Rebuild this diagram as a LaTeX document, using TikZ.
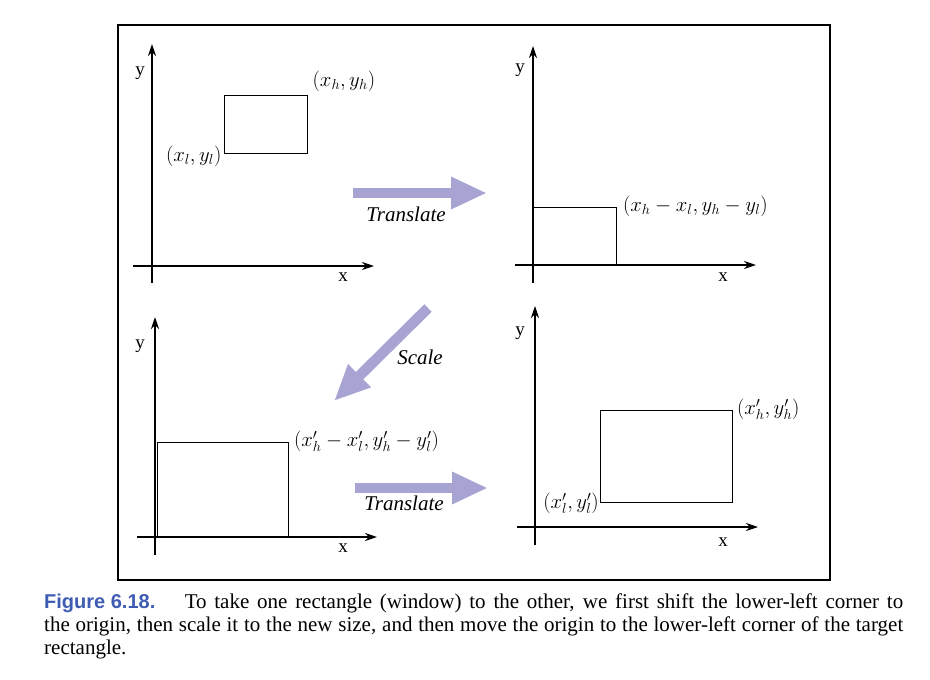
\documentclass[tikz,border=0pt]{standalone}
\usepackage{fontspec}
\setmainfont{Liberation Serif}
\newfontfamily\capsans{Liberation Sans}
\usetikzlibrary{arrows.meta}
\definecolor{lav}{RGB}{167,163,211}
\definecolor{capblue}{RGB}{62,92,178}
\begin{document}
\begin{tikzpicture}[x=1pt,y=-1pt,
  axis/.style={line width=1.6pt,-{Stealth[length=12pt,width=8pt]}},
  rectbox/.style={draw,line width=0.9pt},
  bigarrow/.style={line width=10.5pt,lav,-{Triangle[length=36pt,width=30pt]}},
  lbl/.style={font=\fontsize{20}{22}\selectfont,inner sep=0pt},
  itl/.style={font=\fontsize{21}{22}\selectfont\itshape,inner sep=0pt},
  axlbl/.style={font=\fontsize{19}{20}\selectfont,inner sep=0pt}]
\useasboundingbox (0,0) rectangle (930,680);
\draw[line width=2.5pt] (118,25) rectangle (830,580);
% Panel 1
\coordinate (a1o) at (152,283); \coordinate (a1t) at (152,44);
\coordinate (a1l) at (133,266); \coordinate (a1r) at (374,266);
\draw[axis] (a1o) -- (a1t);
\draw[axis] (a1l) -- (a1r);
\node[axlbl] (y1) at (140,73) {y};
\node[axlbl] (x1) at (343,277) {x};
\node[rectbox,minimum width=83pt,minimum height=58pt,inner sep=0pt] (r1) at (265.5,124) {};
\node[lbl,anchor=south west] (r1h) at ([shift={(5,-3)}]r1.north east) {$(x_h, y_h)$};
\node[lbl,anchor=north east] (r1l) at ([shift={(-2,-8)}]r1.south west) {$(x_l, y_l)$};
% Translate 1
\coordinate (t1s) at (353,193); \coordinate (t1e) at (487,193);
\draw[bigarrow] (t1s) -- (t1e);
\node[itl] (t1lab) at (406,214) {Translate};
% Panel 2
\coordinate (a2o) at (533,283); \coordinate (a2t) at (533,46);
\coordinate (a2l) at (515,265); \coordinate (a2r) at (756,265);
\draw[axis] (a2o) -- (a2t);
\draw[axis] (a2l) -- (a2r);
\node[axlbl] (y2) at (520,70) {y};
\node[axlbl] (x2) at (723,277) {x};
\node[rectbox,minimum width=83pt,minimum height=57pt,inner sep=0pt,anchor=south west] (r2) at (533,265) {};
\draw[line width=2.2pt] (r2.north west) -- (r2.south west) -- (r2.south east);
\node[lbl,anchor=south west] (r2h) at ([shift={(6,10)}]r2.north east) {$(x_h - x_l, y_h - y_l)$};
% Scale arrow
\coordinate (s1s) at (428,308); \coordinate (s1e) at (334,401);
\draw[bigarrow] (s1s) -- (s1e);
\node[itl] (s1lab) at (420,357) {Scale};
% Panel 3
\coordinate (a3o) at (155,555); \coordinate (a3t) at (155,317);
\coordinate (a3l) at (137,537); \coordinate (a3r) at (377,537);
\draw[axis] (a3o) -- (a3t);
\draw[axis] (a3l) -- (a3r);
\node[axlbl] (y3) at (140,346) {y};
\node[axlbl] (x3) at (343,548) {x};
\node[rectbox,minimum width=131pt,minimum height=94pt,inner sep=0pt,anchor=south west] (r3) at (157,537) {};
\node[lbl,anchor=south west] (r3h) at ([shift={(5,10)}]r3.north east) {$(x'_h - x'_l, y'_h - y'_l)$};
% Translate 2
\coordinate (t2s) at (355,488); \coordinate (t2e) at (488,488);
\draw[bigarrow] (t2s) -- (t2e);
\node[itl] (t2lab) at (404,503) {Translate};
% Panel 4
\coordinate (a4o) at (535,545); \coordinate (a4t) at (535,306);
\coordinate (a4l) at (517,527); \coordinate (a4r) at (758,527);
\draw[axis] (a4o) -- (a4t);
\draw[axis] (a4l) -- (a4r);
\node[axlbl] (y4) at (520,333) {y};
\node[axlbl] (x4) at (723,542) {x};
\node[rectbox,minimum width=132pt,minimum height=92pt,inner sep=0pt,anchor=south west] (r4) at (600,503) {};
\node[lbl,anchor=south west] (r4h) at ([shift={(4,10)}]r4.north east) {$(x'_h, y'_h)$};
\node[lbl,anchor=north east] (r4l) at ([shift={(-1,-10)}]r4.south west) {$(x'_l, y'_l)$};
% Caption
\node[anchor=north west,inner sep=0pt,text width=859pt,align=justify,
  font=\fontsize{21}{23}\selectfont] (cap) at (44,594)
  {\mbox{\capsans\fontsize{20}{23}\selectfont\bfseries\color{capblue}Figure 6.18.}\hspace{1.4em}To take one rectangle (window) to the other, we first shift the lower-left corner to\linebreak the origin, then scale it to the new size, and then move the origin to the lower-left corner of the target\linebreak rectangle.};
\end{tikzpicture}
\end{document}
